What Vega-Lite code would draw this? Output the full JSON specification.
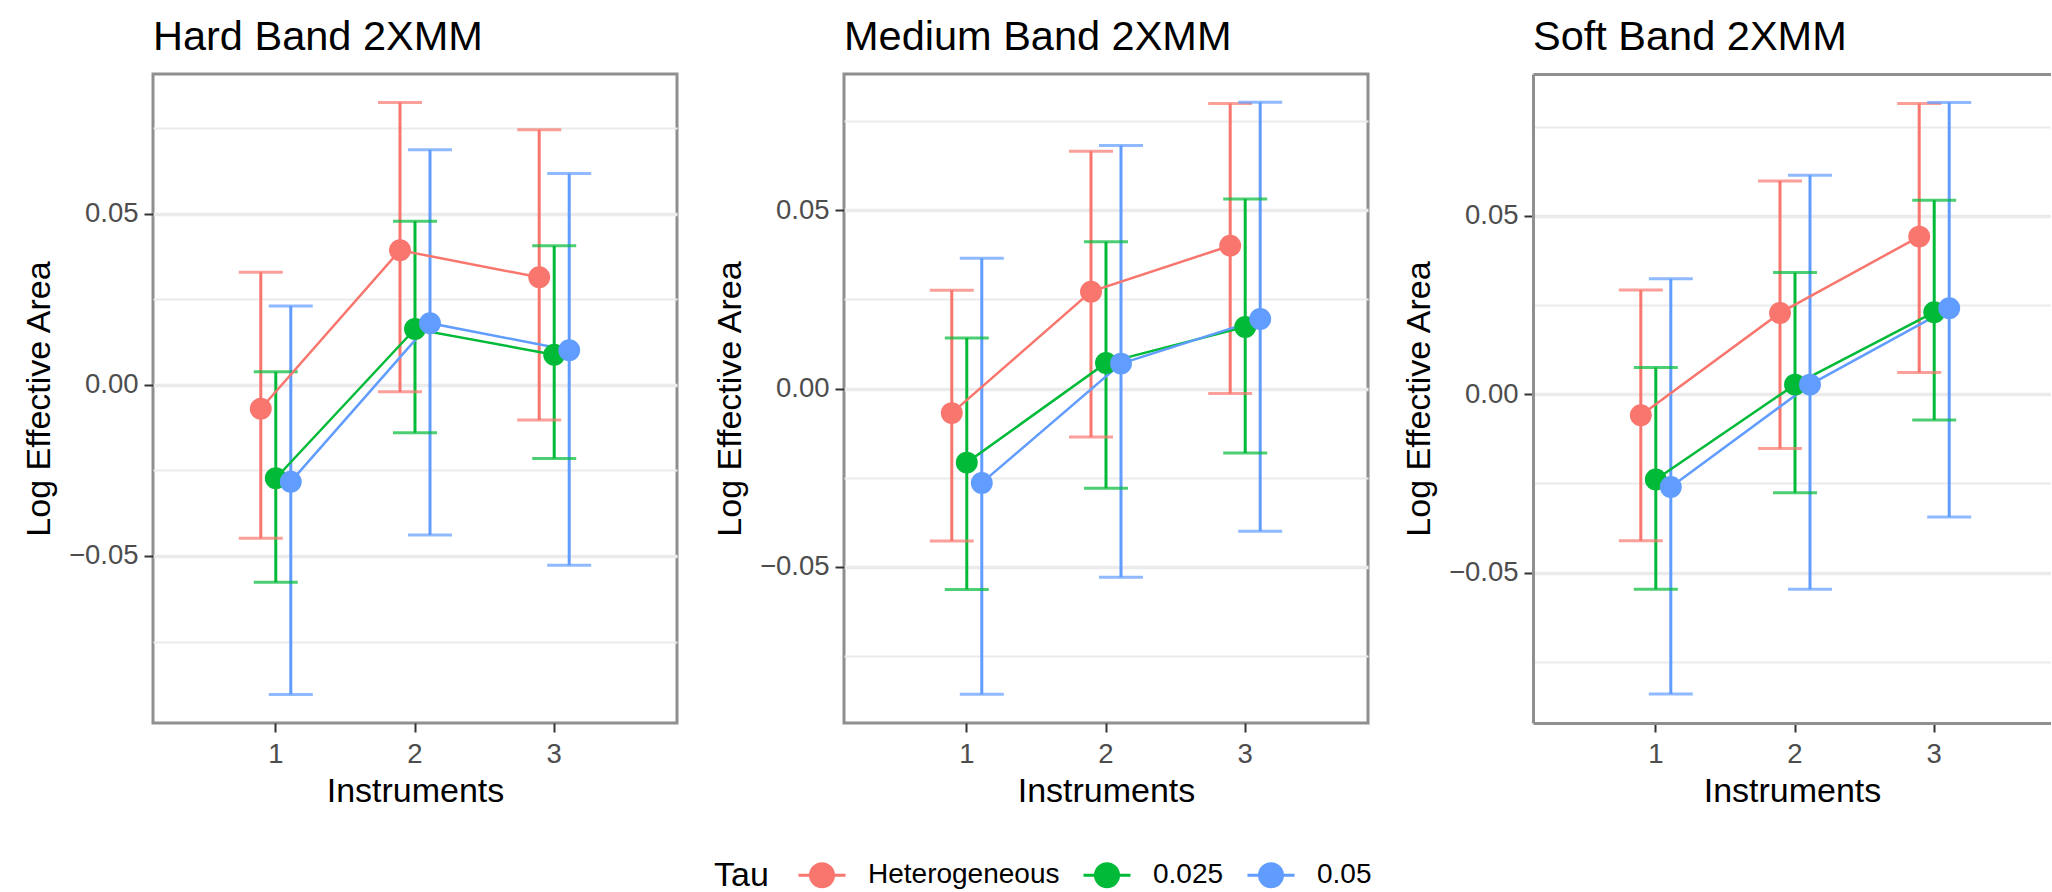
{
  "$schema": "https://vega.github.io/schema/vega-lite/v6.json",
  "padding": {"left": 20, "top": 15, "right": 0, "bottom": 0},
  "autosize": {"type": "pad"},
  "spacing": 32,
  "config": {
    "font": "Liberation Sans",
    "view": {"stroke": "#8f8f8f", "strokeWidth": 3},
    "axis": {"domain": false, "gridColor": "#EBEBEB", "gridWidth": 3.5, "tickColor": "#333333", "tickWidth": 2, "tickSize": 9, "labelFontSize": 27.5, "labelColor": "#4D4D4D", "labelPadding": 6, "titleFontSize": 34, "titleFontWeight": "normal", "titleColor": "#000000", "labelFont": "Liberation Sans", "titleFont": "Liberation Sans"},
    "title": {"fontSize": 41.5, "fontWeight": "normal", "anchor": "start", "color": "#000000", "baseline": "alphabetic", "offset": 16, "font": "Liberation Sans", "frame": "group"},
    "legend": {"labelFont": "Liberation Sans", "titleFont": "Liberation Sans"}
  },
  "datasets": {
    "d": [
      {"band": "Hard", "inst": "1", "tau": "Heterogeneous", "est": -0.0070, "lo": -0.0448, "hi": 0.0329},
      {"band": "Hard", "inst": "2", "tau": "Heterogeneous", "est": 0.0393, "lo": -0.0020, "hi": 0.0825},
      {"band": "Hard", "inst": "3", "tau": "Heterogeneous", "est": 0.0314, "lo": -0.0103, "hi": 0.0745},
      {"band": "Hard", "inst": "1", "tau": "0.025", "est": -0.0273, "lo": -0.0577, "hi": 0.0038},
      {"band": "Hard", "inst": "2", "tau": "0.025", "est": 0.0163, "lo": -0.0140, "hi": 0.0478},
      {"band": "Hard", "inst": "3", "tau": "0.025", "est": 0.0088, "lo": -0.0215, "hi": 0.0406},
      {"band": "Hard", "inst": "1", "tau": "0.05", "est": -0.0283, "lo": -0.0905, "hi": 0.0230},
      {"band": "Hard", "inst": "2", "tau": "0.05", "est": 0.0180, "lo": -0.0439, "hi": 0.0687},
      {"band": "Hard", "inst": "3", "tau": "0.05", "est": 0.0101, "lo": -0.0527, "hi": 0.0617},
      {"band": "Medium", "inst": "1", "tau": "Heterogeneous", "est": -0.0069, "lo": -0.0428, "hi": 0.0276},
      {"band": "Medium", "inst": "2", "tau": "Heterogeneous", "est": 0.0272, "lo": -0.0136, "hi": 0.0666},
      {"band": "Medium", "inst": "3", "tau": "Heterogeneous", "est": 0.0401, "lo": -0.0014, "hi": 0.0800},
      {"band": "Medium", "inst": "1", "tau": "0.025", "est": -0.0208, "lo": -0.0564, "hi": 0.0142},
      {"band": "Medium", "inst": "2", "tau": "0.025", "est": 0.0072, "lo": -0.0280, "hi": 0.0412},
      {"band": "Medium", "inst": "3", "tau": "0.025", "est": 0.0173, "lo": -0.0181, "hi": 0.0532},
      {"band": "Medium", "inst": "1", "tau": "0.05", "est": -0.0265, "lo": -0.0858, "hi": 0.0366},
      {"band": "Medium", "inst": "2", "tau": "0.05", "est": 0.0070, "lo": -0.0530, "hi": 0.0682},
      {"band": "Medium", "inst": "3", "tau": "0.05", "est": 0.0195, "lo": -0.0401, "hi": 0.0804},
      {"band": "Soft", "inst": "1", "tau": "Heterogeneous", "est": -0.0059, "lo": -0.0411, "hi": 0.0292},
      {"band": "Soft", "inst": "2", "tau": "Heterogeneous", "est": 0.0228, "lo": -0.0152, "hi": 0.0598},
      {"band": "Soft", "inst": "3", "tau": "Heterogeneous", "est": 0.0442, "lo": 0.0061, "hi": 0.0815},
      {"band": "Soft", "inst": "1", "tau": "0.025", "est": -0.0239, "lo": -0.0547, "hi": 0.0075},
      {"band": "Soft", "inst": "2", "tau": "0.025", "est": 0.0027, "lo": -0.0276, "hi": 0.0341},
      {"band": "Soft", "inst": "3", "tau": "0.025", "est": 0.0230, "lo": -0.0072, "hi": 0.0544},
      {"band": "Soft", "inst": "1", "tau": "0.05", "est": -0.0260, "lo": -0.0841, "hi": 0.0324},
      {"band": "Soft", "inst": "2", "tau": "0.05", "est": 0.0027, "lo": -0.0547, "hi": 0.0614},
      {"band": "Soft", "inst": "3", "tau": "0.05", "est": 0.0241, "lo": -0.0344, "hi": 0.0818}
    ]
  },
  "hconcat": [
    {
      "title": "Hard Band 2XMM",
      "width": 524, "height": 649,
      "data": {"name": "d"},
      "transform": [{"filter": "datum.band == 'Hard'"}],
      "encoding": {
        "x": {"field": "inst", "type": "ordinal", "scale": {"paddingInner": 0, "paddingOuter": 0.382}, "axis": {"title": "Instruments", "labelAngle": 0, "labelPadding": 8, "titlePadding": 7}},
        "xOffset": {"field": "tau", "type": "nominal", "sort": ["Heterogeneous", "0.025", "0.05"], "scale": {"type": "point", "padding": 0, "range": [54.6, 84.6]}},
        "color": {"field": "tau", "type": "nominal", "sort": ["Heterogeneous", "0.025", "0.05"], "scale": {"domain": ["Heterogeneous", "0.025", "0.05"], "range": ["#F8766D", "#00BA38", "#619CFF"]},
          "legend": {"orient": "none", "legendX": 561, "legendY": 776, "direction": "horizontal", "titleOrient": "left", "titleAnchor": "middle", "titleBaseline": "middle", "title": "Tau", "symbolType": "M-1,0L1,0M-0.49,0A0.49,0.49,0,1,0,0.49,0A0.49,0.49,0,1,0,-0.49,0Z", "symbolSize": 2209, "symbolStrokeWidth": 3, "labelFontSize": 28, "labelLimit": 0, "titleFontSize": 34, "titleFontWeight": "normal", "labelColor": "#000000", "titleColor": "#000000", "labelOffset": 21, "columnPadding": 17, "titlePadding": 28,
            "encode": {"symbols": {"update": {"fill": {"scale": "color", "field": "value"}, "stroke": {"scale": "color", "field": "value"}, "opacity": {"value": 1}}}, "title": {"update": {"dy": {"value": 5}}}}}}
      },
      "layer": [
        {"mark": {"type": "rule", "strokeWidth": 3}, "encoding": {"y": {"field": "lo", "type": "quantitative", "title": "Log Effective Area", "scale": {"domain": [-0.0988, 0.0908], "nice": false, "zero": false}, "axis": {"values": [-0.075, -0.05, -0.025, 0, 0.025, 0.05, 0.075], "format": ".2f", "titlePadding": 12, "labelExpr": "round(datum.value*40) % 2 != 0 ? '' : datum.label", "tickOpacity": {"condition": {"test": "round(datum.value*40) % 2 != 0", "value": 0}, "value": 1}, "gridWidth": {"condition": {"test": "round(datum.value*40) % 2 != 0", "value": 1.8}, "value": 3.5}}}, "y2": {"field": "hi"}}},
        {"mark": {"type": "tick", "thickness": 3, "size": 44}, "encoding": {"y": {"field": "lo", "type": "quantitative", "title": "Log Effective Area"}}},
        {"mark": {"type": "tick", "thickness": 3, "size": 44}, "encoding": {"y": {"field": "hi", "type": "quantitative", "title": "Log Effective Area"}}},
        {"mark": {"type": "line", "strokeWidth": 2.5}, "encoding": {"y": {"field": "est", "type": "quantitative", "title": "Log Effective Area"}}},
        {"mark": {"type": "point", "filled": true, "size": 480, "opacity": 1}, "encoding": {"y": {"field": "est", "type": "quantitative", "title": "Log Effective Area"}}}
      ]
    },
    {
      "title": "Medium Band 2XMM",
      "width": 524, "height": 649,
      "data": {"name": "d"},
      "transform": [{"filter": "datum.band == 'Medium'"}],
      "encoding": {
        "x": {"field": "inst", "type": "ordinal", "scale": {"paddingInner": 0, "paddingOuter": 0.382}, "axis": {"title": "Instruments", "labelAngle": 0, "labelPadding": 8, "titlePadding": 7}},
        "xOffset": {"field": "tau", "type": "nominal", "sort": ["Heterogeneous", "0.025", "0.05"], "scale": {"type": "point", "padding": 0, "range": [54.6, 84.6]}},
        "color": {"field": "tau", "type": "nominal", "sort": ["Heterogeneous", "0.025", "0.05"], "scale": {"domain": ["Heterogeneous", "0.025", "0.05"], "range": ["#F8766D", "#00BA38", "#619CFF"]}}
      },
      "layer": [
        {"mark": {"type": "rule", "strokeWidth": 3}, "encoding": {"y": {"field": "lo", "type": "quantitative", "title": "Log Effective Area", "scale": {"domain": [-0.0939, 0.0883], "nice": false, "zero": false}, "axis": {"values": [-0.075, -0.05, -0.025, 0, 0.025, 0.05, 0.075], "format": ".2f", "titlePadding": 12, "labelExpr": "round(datum.value*40) % 2 != 0 ? '' : datum.label", "tickOpacity": {"condition": {"test": "round(datum.value*40) % 2 != 0", "value": 0}, "value": 1}, "gridWidth": {"condition": {"test": "round(datum.value*40) % 2 != 0", "value": 1.8}, "value": 3.5}}}, "y2": {"field": "hi"}}},
        {"mark": {"type": "tick", "thickness": 3, "size": 44}, "encoding": {"y": {"field": "lo", "type": "quantitative", "title": "Log Effective Area"}}},
        {"mark": {"type": "tick", "thickness": 3, "size": 44}, "encoding": {"y": {"field": "hi", "type": "quantitative", "title": "Log Effective Area"}}},
        {"mark": {"type": "line", "strokeWidth": 2.5}, "encoding": {"y": {"field": "est", "type": "quantitative", "title": "Log Effective Area"}}},
        {"mark": {"type": "point", "filled": true, "size": 480, "opacity": 1}, "encoding": {"y": {"field": "est", "type": "quantitative", "title": "Log Effective Area"}}}
      ]
    },
    {
      "title": "Soft Band 2XMM",
      "width": 518, "height": 649,
      "view": {"stroke": null},
      "data": {"name": "d"},
      "transform": [{"filter": "datum.band == 'Soft'"}],
      "encoding": {
        "xOffset": {"field": "tau", "type": "nominal", "sort": ["Heterogeneous", "0.025", "0.05"], "scale": {"type": "point", "padding": 0, "range": [54.6, 84.6]}},
        "color": {"field": "tau", "type": "nominal", "sort": ["Heterogeneous", "0.025", "0.05"], "scale": {"domain": ["Heterogeneous", "0.025", "0.05"], "range": ["#F8766D", "#00BA38", "#619CFF"]}}
      },
      "resolve": {"axis": {"x": "independent"}},
      "layer": [
        {"mark": {"type": "rule", "strokeWidth": 3}, "encoding": {
          "x": {"field": "inst", "type": "ordinal", "scale": {"paddingInner": 0, "paddingOuter": 0.3606, "align": 0.53}, "axis": {"title": "Instruments", "labelAngle": 0, "labelPadding": 8, "titlePadding": 7, "domain": true, "domainColor": "#8f8f8f", "domainWidth": 3}},
          "y": {"field": "lo", "type": "quantitative", "title": "Log Effective Area", "scale": {"domain": [-0.0922, 0.0898], "nice": false, "zero": false}, "axis": {"values": [-0.075, -0.05, -0.025, 0, 0.025, 0.05, 0.075], "format": ".2f", "titlePadding": 12, "domain": true, "domainColor": "#8f8f8f", "domainWidth": 3, "labelExpr": "round(datum.value*40) % 2 != 0 ? '' : datum.label", "tickOpacity": {"condition": {"test": "round(datum.value*40) % 2 != 0", "value": 0}, "value": 1}, "gridWidth": {"condition": {"test": "round(datum.value*40) % 2 != 0", "value": 1.8}, "value": 3.5}}}, "y2": {"field": "hi"}}},
        {"mark": {"type": "tick", "thickness": 3, "size": 44}, "encoding": {"x": {"field": "inst", "type": "ordinal", "axis": null}, "y": {"field": "lo", "type": "quantitative", "title": "Log Effective Area"}}},
        {"mark": {"type": "tick", "thickness": 3, "size": 44}, "encoding": {"x": {"field": "inst", "type": "ordinal", "axis": {"orient": "top", "labels": false, "ticks": false, "grid": false, "domain": true, "domainColor": "#8f8f8f", "domainWidth": 3, "title": null}}, "y": {"field": "hi", "type": "quantitative", "title": "Log Effective Area"}}},
        {"mark": {"type": "line", "strokeWidth": 2.5}, "encoding": {"x": {"field": "inst", "type": "ordinal", "axis": null}, "y": {"field": "est", "type": "quantitative", "title": "Log Effective Area"}}},
        {"mark": {"type": "point", "filled": true, "size": 480, "opacity": 1}, "encoding": {"x": {"field": "inst", "type": "ordinal", "axis": null}, "y": {"field": "est", "type": "quantitative", "title": "Log Effective Area"}}}
      ]
    }
  ]
}
